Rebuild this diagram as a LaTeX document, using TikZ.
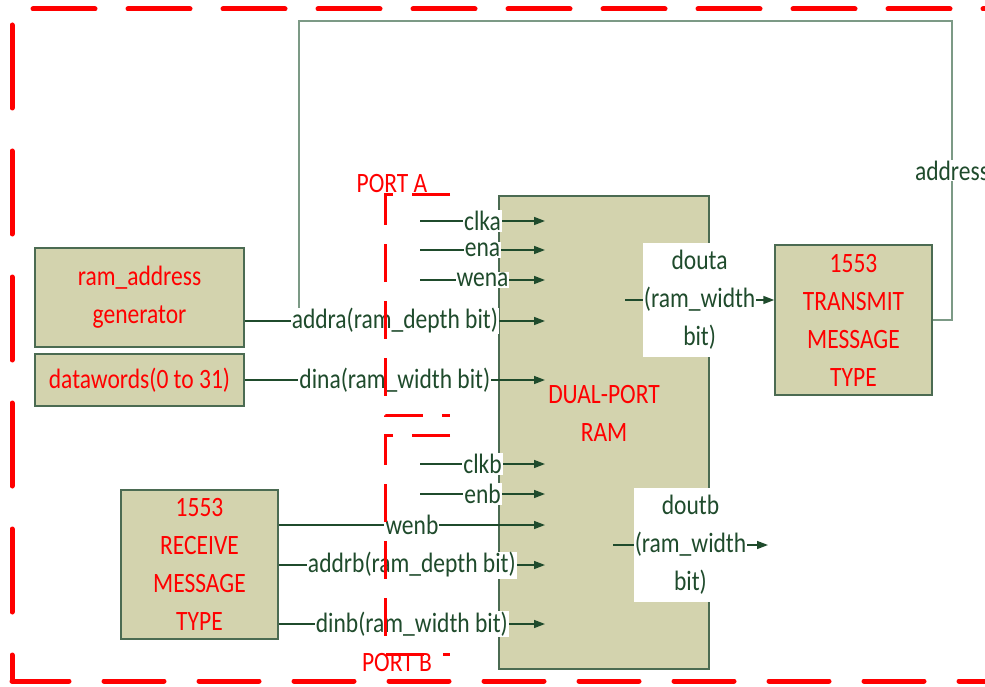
\documentclass[tikz,border=0pt]{standalone}
\usepackage{fontspec}
\setmainfont{Carlito}[FakeStretch=0.84]
\usetikzlibrary{arrows.meta,positioning,calc}
\definecolor{boxfill}{HTML}{D3D3AE}
\definecolor{boxedge}{HTML}{4B6B52}
\definecolor{sigreen}{HTML}{1F4B2C}
\definecolor{wiregray}{HTML}{7C9A86}
\definecolor{portred}{HTML}{FF0000}

\begin{document}
\begin{tikzpicture}[x=1pt,y=-1pt,>={Triangle[length=11pt,width=8pt]},
  font=\fontsize{28}{38}\selectfont,
  block/.style={draw=boxedge,fill=boxfill,line width=1.5pt,inner sep=0pt,align=center,text=portred},
  sig/.style={sigreen,line width=1.5pt},
  lbl/.style={fill=white,text=sigreen,inner sep=1pt},
  outlbl/.style={fill=white,text=sigreen,inner sep=1pt,align=center,minimum height=114pt},
  wire/.style={wiregray,line width=1.5pt},
  frameline/.style={portred,line width=5pt,line cap=round},
  portline/.style={portred,line width=3pt,dash pattern=on 38pt off 19pt},
  porttxt/.style={text=portred,inner sep=0pt}]

  \useasboundingbox (0,0) rectangle (985,687);

  % =====================================================================
  % OUTER FRAME
  % =====================================================================
  \draw[frameline,dash pattern=on 62pt off 33pt] (33,9) -- (1000,9);
  \draw[frameline,dash pattern=on 83pt off 43pt,dash phase=57pt] (12,681) -- (12,25);
  \draw[frameline,dash pattern=on 60pt off 35pt,dash phase=3pt] (12,681) -- (1000,681);

  % =====================================================================
  % BLOCKS
  % =====================================================================
  \node[block,minimum width=209pt,minimum height=99pt] (ramgen) at (139.5,297.5)
        {ram\_address\\generator};
  \node[block,minimum width=209pt,minimum height=52pt] (words) at (139.5,380)
        {datawords(0 to 31)};
  \node[block,minimum width=157pt,minimum height=149pt] (rxmsg) at (199.5,564.5)
        {1553\\RECEIVE\\MESSAGE\\TYPE};
  \node[block,minimum width=157pt,minimum height=150pt] (txmsg) at (853.5,320)
        {1553\\TRANSMIT\\MESSAGE\\TYPE};

  % Feedback wire: transmit block back to the address line
  \coordinate (fbup) at (952,320);
  \coordinate (fbtop) at (952,21);
  \coordinate (fbleft) at (299,21);
  \coordinate (fbjoin) at (299,321);
  \draw[wire] (txmsg.east) -- (fbup) -- node[lbl] (addrlbl) {address} (fbtop) -- (fbleft) -- (fbjoin);

  \node[block,minimum width=210pt,minimum height=473pt] (dpram) at (604,432.5) {};
  \node[porttxt,align=center] (ramtxt) at ([yshift=19pt]dpram.center) {DUAL-PORT\\RAM};

  % =====================================================================
  % PORT A signals
  % =====================================================================
  \foreach \name/\y in {clka/221,ena/250,wena/280} {
    \coordinate (\name-in) at (420,\y);
    \coordinate (\name-out) at (545,\y);
    \draw[sig,->] (\name-in) -- node[lbl] {\name} (\name-out);
  }
  \coordinate (addra-out) at (545,321);
  \coordinate (dina-out) at (545,380);
  \draw[sig,->] (ramgen.east |- addra-out) -- node[lbl] {addra(ram\_depth bit)} (addra-out);
  \draw[sig,->] (words.east) -- node[lbl] {dina(ram\_width bit)} (dina-out);

  % =====================================================================
  % PORT B signals
  % =====================================================================
  \foreach \name/\y in {clkb/464,enb/494} {
    \coordinate (\name-in) at (420,\y);
    \coordinate (\name-out) at (545,\y);
    \draw[sig,->] (\name-in) -- node[lbl] {\name} (\name-out);
  }
  \coordinate (wenb-out) at (545,525);
  \coordinate (addrb-out) at (545,565);
  \coordinate (dinb-out) at (545,624);
  \draw[sig,->] (rxmsg.east |- wenb-out) -- node[lbl] {wenb} (wenb-out);
  \draw[sig,->] (rxmsg.east |- addrb-out) -- node[lbl] {addrb(ram\_depth bit)} (addrb-out);
  \draw[sig,->] (rxmsg.east |- dinb-out) -- node[lbl] {dinb(ram\_width bit)} (dinb-out);

  % =====================================================================
  % OUTPUTS
  % =====================================================================
  \coordinate (douta-in) at (625,300);
  \coordinate (doutb-in) at (613,545);
  \coordinate (doutb-out) at (768,545);
  \draw[sig,->] (douta-in) -- node[outlbl] {douta\\(ram\_width\\bit)} (txmsg.west |- douta-in);
  \draw[sig,->] (doutb-in) -- node[outlbl] {doutb\\(ram\_width\\bit)} (doutb-out);

  % =====================================================================
  % PORT GROUPS (dashed)
  % =====================================================================
  \draw[portline] (450,195) -- (385,195) -- (385,415) -- (450,415);
  \node[porttxt] (porta) at (392,184) {PORT A};
  \draw[portline] (450,435) -- (385,435) -- (385,654) -- (450,654);
  \node[porttxt] (portb) at (397,663) {PORT B};

\end{tikzpicture}
\end{document}
